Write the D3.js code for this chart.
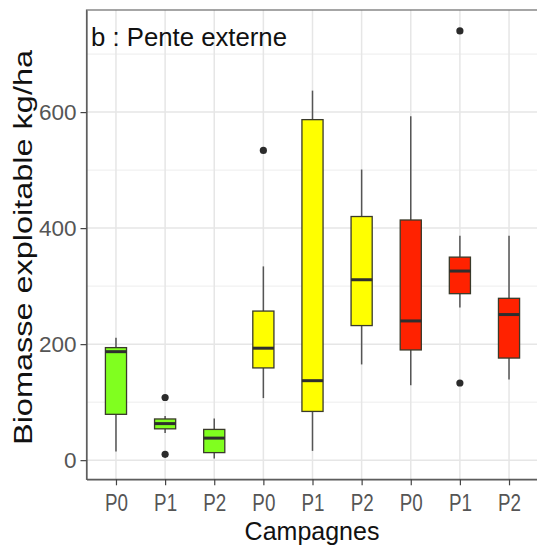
<!DOCTYPE html>
<html>
<head>
<meta charset="utf-8">
<script src="https://cdn.jsdelivr.net/npm/d3@7"></script>
<style>
  html, body { margin: 0; padding: 0; background: #fff; }
  svg { display: block; font-family: "Liberation Sans", Arial, sans-serif; }
</style>
</head>
<body>
<svg id="chart" width="537" height="554"></svg>
<script>
// ---- data ----
const groups      = ["g0", "g1", "g2", "g3", "g4", "g5", "g6", "g7", "g8"];
const tickLabels  = ["P0", "P1", "P2", "P0", "P1", "P2", "P0", "P1", "P2"];
const fills       = ["#80FF1F", "#80FF1F", "#80FF1F", "#FFFF00", "#FFFF00", "#FFFF00", "#FF2200", "#FF2200", "#FF2200"];
const whiskerLow  = [15, 47, 3, 107, 16, 165, 129, 263, 139];
const q1          = [79, 54, 13, 159, 84, 232, 190, 287, 176];
const median      = [187, 63, 38, 193, 137, 311, 240, 326, 251];
const q3          = [194, 71, 53, 257, 587, 420, 414, 350, 279];
const whiskerHigh = [211, 76, 72, 334, 637, 501, 593, 387, 387];
const outliers    = [[], [108, 10], [], [534], [], [], [], [740, 133], []];
const yTicks      = [0, 200, 400, 600];
const yMinor      = [100, 300, 500, 700];

// ---- layout ----
const svg = d3.select("#chart");
const pLeft = 86.5, pRight = 538.5, pTop = 10, pBottom = 479.3;

const x = d3.scalePoint().domain(groups).range([pLeft, pRight]).padding(0.6);
const y = d3.scaleLinear().domain([-33, 776]).range([pBottom, pTop]);
const boxW = 0.43 * x.step();

svg.append("rect").attr("x", pLeft).attr("y", pTop)
  .attr("width", pRight - pLeft).attr("height", pBottom - pTop).attr("fill", "#fff");

// grid
const grid = svg.append("g");
grid.selectAll("line.minor").data(yMinor).join("line")
  .attr("x1", pLeft).attr("x2", pRight).attr("y1", d => y(d)).attr("y2", d => y(d))
  .attr("stroke", "#EDEDED").attr("stroke-width", 1);
grid.selectAll("line.major").data(yTicks).join("line")
  .attr("x1", pLeft).attr("x2", pRight).attr("y1", d => y(d)).attr("y2", d => y(d))
  .attr("stroke", "#E6E6E6").attr("stroke-width", 1.5);
grid.selectAll("line.vmajor").data(groups).join("line")
  .attr("x1", d => x(d)).attr("x2", d => x(d)).attr("y1", pTop).attr("y2", pBottom)
  .attr("stroke", "#E6E6E6").attr("stroke-width", 1.5);

// panel border
svg.append("rect").attr("x", pLeft).attr("y", pTop)
  .attr("width", pRight - pLeft).attr("height", pBottom - pTop)
  .attr("fill", "none").attr("stroke", "#6b6b6b").attr("stroke-width", 1.2);

// boxes
const idx = d3.range(groups.length);
const g = svg.append("g");
g.selectAll("line.wlo").data(idx).join("line")
  .attr("x1", i => x(groups[i])).attr("x2", i => x(groups[i]))
  .attr("y1", i => y(whiskerLow[i])).attr("y2", i => y(q1[i]))
  .attr("stroke", "#555").attr("stroke-width", 1.5);
g.selectAll("line.whi").data(idx).join("line")
  .attr("x1", i => x(groups[i])).attr("x2", i => x(groups[i]))
  .attr("y1", i => y(whiskerHigh[i])).attr("y2", i => y(q3[i]))
  .attr("stroke", "#555").attr("stroke-width", 1.5);
g.selectAll("rect.box").data(idx).join("rect")
  .attr("x", i => x(groups[i]) - boxW / 2).attr("width", boxW)
  .attr("y", i => y(q3[i])).attr("height", i => y(q1[i]) - y(q3[i]))
  .attr("fill", i => fills[i]).attr("stroke", "#3a3a2a").attr("stroke-width", 1.3);
g.selectAll("line.med").data(idx).join("line")
  .attr("x1", i => x(groups[i]) - boxW / 2).attr("x2", i => x(groups[i]) + boxW / 2)
  .attr("y1", i => y(median[i])).attr("y2", i => y(median[i]))
  .attr("stroke", "#2e2e2e").attr("stroke-width", 3);
const outPts = [];
outliers.forEach((arr, i) => arr.forEach(v => outPts.push({ g: groups[i], v })));
g.selectAll("circle.out").data(outPts).join("circle")
  .attr("cx", d => x(d.g)).attr("cy", d => y(d.v)).attr("r", 3.6)
  .attr("fill", "#2b2b2b");

// axes
const yAxis = d3.axisLeft(y).tickValues(yTicks).tickSize(6).tickSizeOuter(0).tickPadding(4);
const yg = svg.append("g").attr("transform", `translate(${pLeft},0)`).call(yAxis);
yg.select(".domain").attr("stroke", "#555").attr("stroke-width", 1.2);
yg.selectAll(".tick line").attr("stroke", "#444").attr("stroke-width", 1.2);
yg.selectAll(".tick text").attr("font-size", 22.5).attr("fill", "#555")
  .attr("font-family", "Liberation Sans, Arial, sans-serif");

const xAxis = d3.axisBottom(x).tickFormat((d, i) => tickLabels[i]).tickSize(6).tickSizeOuter(0).tickPadding(9);
const xg = svg.append("g").attr("transform", `translate(0,${pBottom})`).call(xAxis);
xg.select(".domain").attr("stroke", "#555").attr("stroke-width", 1.2);
xg.selectAll(".tick line").attr("stroke", "#444").attr("stroke-width", 1.2);
xg.selectAll(".tick text").attr("font-size", 23).attr("fill", "#555")
  .attr("font-family", "Liberation Sans, Arial, sans-serif")
  .attr("textLength", 23).attr("lengthAdjust", "spacingAndGlyphs");

// titles
svg.append("text").attr("x", 91).attr("y", 45.5)
  .attr("font-size", 25).attr("fill", "#111")
  .attr("textLength", 196).attr("lengthAdjust", "spacingAndGlyphs")
  .text("b : Pente externe");

svg.append("text").attr("x", 312).attr("y", 540)
  .attr("text-anchor", "middle").attr("font-size", 25).attr("fill", "#111")
  .text("Campagnes");

svg.append("text").attr("transform", "translate(32,247.5) rotate(-90)")
  .attr("text-anchor", "middle").attr("font-size", 25).attr("fill", "#111")
  .attr("textLength", 395).attr("lengthAdjust", "spacingAndGlyphs")
  .text("Biomasse exploitable kg/ha");
</script>
</body>
</html>
